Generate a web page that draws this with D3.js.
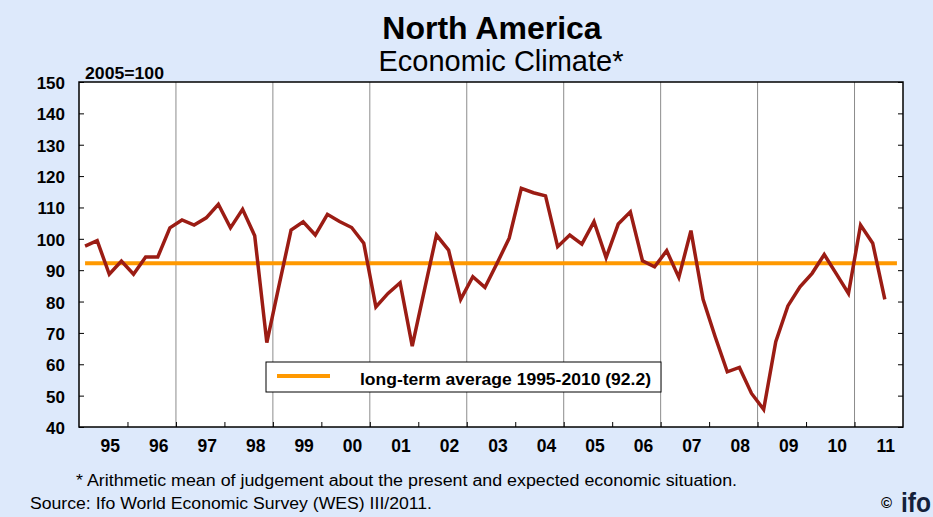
<!DOCTYPE html>
<html>
<head>
<meta charset="utf-8">
<script src="https://cdn.jsdelivr.net/npm/d3@7"></script>
<style>
  body { margin: 0; background: #dde9fb; }
  svg { display: block; font-family: "Liberation Sans", Arial, sans-serif; }
</style>
</head>
<body>
<div id="chart"></div>
<script>
// quarterly economic climate, 1995 Q1 .. 2011 Q3 (2005=100)
const startYear = 1995;
const climate = [
  97.7, 99.4, 88.7, 92.9,     // 95
  88.7, 94.2, 94.2, 103.5,    // 96
  106.0, 104.4, 106.7, 111.0, // 97
  103.5, 109.4, 101.0, 66.9,  // 98
  85.0, 102.8, 105.4, 101.2,  // 99
  107.8, 105.5, 103.6, 98.6,  // 00
  78.3, 82.6, 86.0, 65.8,     // 01
  83.6, 101.2, 96.4, 80.7,    // 02
  87.9, 84.5, 92.2, 100.2,    // 03
  116.1, 114.7, 113.7, 97.5,  // 04
  101.2, 98.3, 105.5, 94.0,   // 05
  104.7, 108.6, 93.0, 91.1,   // 06
  96.2, 87.7, 102.6, 80.7,    // 07
  68.8, 57.6, 59.0, 50.7,     // 08
  45.6, 67.2, 78.6, 84.7,     // 09
  89.0, 95.0, 88.8, 82.6,     // 10
  104.4, 98.6, 80.7           // 11
];
const longTermAvg = 92.2;
const yearLabels = ["95","96","97","98","99","00","01","02","03","04","05","06","07","08","09","10","11"];
const yTicks = [40, 50, 60, 70, 80, 90, 100, 110, 120, 130, 140, 150];

const W = 933, H = 517;
const margin = {top: 82, right: 30, bottom: 90, left: 79}; // plot box
const width = W - margin.left - margin.right;
const height = H - margin.top - margin.bottom;

const svg = d3.select("#chart").append("svg")
    .attr("width", W)
    .attr("height", H);

svg.append("rect").attr("width", W).attr("height", H).attr("fill", "#dde9fb");

const g = svg.append("g").attr("transform", `translate(${margin.left},${margin.top})`);

const x = d3.scaleLinear().domain([startYear, startYear + yearLabels.length]).range([0, width]);
const y = d3.scaleLinear().domain([40, 150]).range([height, 0]);

g.append("rect").attr("width", width).attr("height", height).attr("fill", "#fff");

// two-year gridlines
const gridYears = d3.range(1997, 2012, 2);
g.selectAll(".grid").data(gridYears).enter().append("line")
    .attr("x1", d => x(d)).attr("x2", d => x(d))
    .attr("y1", 0).attr("y2", height)
    .attr("stroke", "#8c8c8c").attr("stroke-width", 1);

// axes with inward ticks
g.append("g")
    .call(d3.axisLeft(y).tickValues(yTicks).tickSize(-5).tickFormat(""))
    .call(a => a.select(".domain").remove())
    .selectAll("line").attr("stroke", "#000");
g.append("g").attr("transform", `translate(${width},0)`)
    .call(d3.axisRight(y).tickValues(yTicks).tickSize(-5).tickFormat(""))
    .call(a => a.select(".domain").remove())
    .selectAll("line").attr("stroke", "#000");
g.append("g").attr("transform", `translate(0,${height})`)
    .call(d3.axisBottom(x).tickValues(d3.range(1996, 2012)).tickSize(-5).tickFormat(""))
    .call(a => a.select(".domain").remove())
    .selectAll("line").attr("stroke", "#000");

// y labels
svg.append("g").selectAll("text").data(yTicks).enter().append("text")
    .attr("x", 65).attr("y", d => margin.top + y(d) + 7)
    .attr("text-anchor", "end")
    .style("font-size", "17px").style("font-weight", "bold")
    .text(d => d);

// x labels (sit a little right of the year centre, as in the original)
svg.append("g").selectAll("text").data(yearLabels).enter().append("text")
    .attr("x", (d, i) => margin.left + x(startYear + i + 0.5) + 7)
    .attr("y", 452)
    .attr("text-anchor", "middle")
    .style("font-size", "17.5px").style("font-weight", "bold")
    .text(d => d);

// long-term average
g.append("line")
    .attr("x1", x(startYear + 0.125)).attr("x2", x(startYear + yearLabels.length - 0.125))
    .attr("y1", y(longTermAvg)).attr("y2", y(longTermAvg))
    .attr("stroke", "#ff9900").attr("stroke-width", 4);

// climate line
const line = d3.line()
    .x((d, i) => x(startYear + (i + 0.5) / 4))
    .y(d => y(d));
g.append("path").datum(climate)
    .attr("d", line)
    .attr("fill", "none")
    .attr("stroke", "#9b1c14")
    .attr("stroke-width", 3.5)
    .attr("stroke-linejoin", "miter");

// frame
g.append("rect").attr("width", width).attr("height", height)
    .attr("fill", "none").attr("stroke", "#000").attr("stroke-width", 1.5);

// legend
const lg = svg.append("g").attr("transform", "translate(266,362)");
lg.append("rect").attr("width", 395).attr("height", 30)
    .attr("fill", "#fff").attr("stroke", "#000").attr("stroke-width", 1);
lg.append("line").attr("x1", 11).attr("x2", 64).attr("y1", 14).attr("y2", 14)
    .attr("stroke", "#ff9900").attr("stroke-width", 4);
lg.append("text").attr("x", 94).attr("y", 23)
    .style("font-size", "17px").style("font-weight", "bold")
    .attr("textLength", 291).attr("lengthAdjust", "spacingAndGlyphs")
    .text("long-term average 1995-2010 (92.2)");

// titles
svg.append("text").attr("x", 492).attr("y", 39).attr("text-anchor", "middle")
    .style("font-size", "32px").style("font-weight", "bold")
    .text("North America");
svg.append("text").attr("x", 501).attr("y", 71).attr("text-anchor", "middle")
    .style("font-size", "29px")
    .text("Economic Climate*");
svg.append("text").attr("x", 85).attr("y", 79)
    .style("font-size", "16px").style("font-weight", "bold")
    .attr("textLength", 79).attr("lengthAdjust", "spacingAndGlyphs")
    .text("2005=100");

// footnotes
svg.append("text").attr("x", 76).attr("y", 486)
    .style("font-size", "16px")
    .attr("textLength", 661).attr("lengthAdjust", "spacingAndGlyphs")
    .text("* Arithmetic mean of judgement about the present and expected economic situation.");
svg.append("text").attr("x", 30).attr("y", 509)
    .style("font-size", "16px")
    .attr("textLength", 402).attr("lengthAdjust", "spacingAndGlyphs")
    .text("Source: Ifo World Economic Survey (WES) III/2011.");

// copyright and logo
svg.append("text").attr("x", 881).attr("y", 508)
    .style("font-size", "15px").style("font-weight", "bold")
    .text("©");
svg.append("text").attr("x", 901).attr("y", 512)
    .style("font-size", "27px").style("font-weight", "bold").attr("fill", "#14203a")
    .attr("textLength", 30).attr("lengthAdjust", "spacingAndGlyphs")
    .text("ifo");
</script>
</body>
</html>
